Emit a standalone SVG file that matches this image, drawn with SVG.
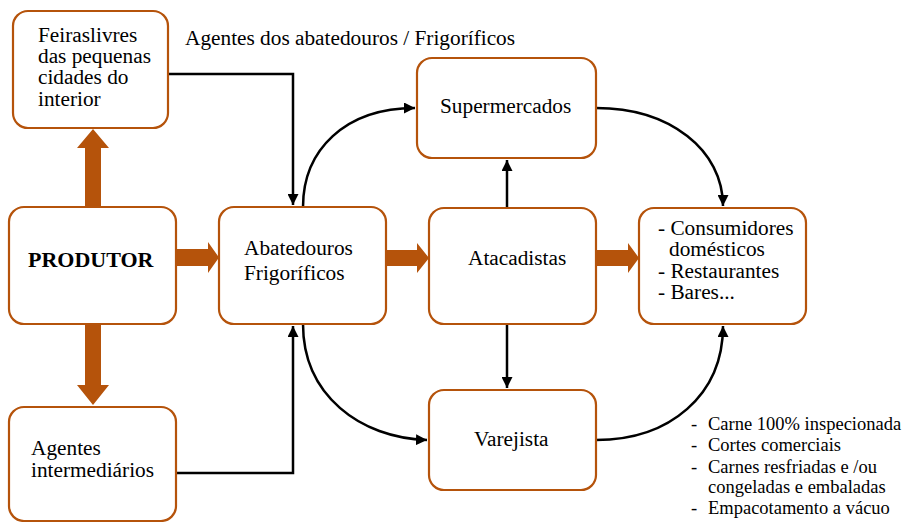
<svg xmlns="http://www.w3.org/2000/svg" width="905" height="522" viewBox="0 0 905 522" font-family="'Liberation Serif', serif">
<defs>
<style>
.box{fill:#fff;stroke:#b5530b;stroke-width:2.2}
.big{fill:#b5530b}
text{font-family:'Liberation Serif',serif;font-size:21.3px;fill:#000}
.b{font-weight:bold;font-size:22px}
.sm{font-size:18.5px}
.c{fill:none;stroke:#000;stroke-width:2.5}
</style>
<marker id="ah" viewBox="0 0 10 10" refX="10" refY="5" markerWidth="11" markerHeight="11" markerUnits="userSpaceOnUse" orient="auto">
<path d="M0,0 L10,5 L0,10 z" fill="#000"/>
</marker>
</defs>
<rect width="905" height="522" fill="#fff"/>
<g id="thick-arrows">
<polygon class="big" points="85,207 85,148 77,148 93,129 109,148 101,148 101,207"/>
<polygon class="big" points="85,324 85,385 77,385 93,405 109,385 101,385 101,324"/>
<polygon class="big" points="176,249 208,249 208,242 219,257.5 208,273 208,266 176,266"/>
<polygon class="big" points="386,250 417,250 417,243 429,258 417,273 417,266 386,266"/>
<polygon class="big" points="596,250 628,250 628,243 639,258 628,273 628,266 596,266"/>
</g>
<g id="connectors">
<path class="c" d="M168,74 H293 V205" marker-end="url(#ah)"/>
<path class="c" d="M176,473 H293 V326" marker-end="url(#ah)"/>
<path class="c" d="M303,207 C303,150 345,108 415,108" marker-end="url(#ah)"/>
<path class="c" d="M303,324 C303,395 360,438 427,440" marker-end="url(#ah)"/>
<path class="c" d="M507,208 V160" marker-end="url(#ah)"/>
<path class="c" d="M507,324 V388" marker-end="url(#ah)"/>
<path class="c" d="M596,108 C670,108 723,150 723,206" marker-end="url(#ah)"/>
<path class="c" d="M596,440 C670,440 723,395 723,326" marker-end="url(#ah)"/>
</g>
<g id="feiras">
<rect class="box" x="13" y="11" width="155" height="117" rx="15"/>
<text x="38" y="42">Feiraslivres</text>
<text x="38" y="63">das pequenas</text>
<text x="38" y="84">cidades do</text>
<text x="38" y="106">interior</text>
</g>
<g id="label-agentes-abatedouros">
<text x="185" y="45">Agentes dos abatedouros / Frigoríficos</text>
</g>
<g id="produtor">
<rect class="box" x="9" y="207" width="167" height="117" rx="15"/>
<text class="b" x="28" y="267">PRODUTOR</text>
</g>
<g id="abatedouros">
<rect class="box" x="219" y="207" width="167" height="117" rx="15"/>
<text x="244" y="255">Abatedouros</text>
<text x="244" y="280">Frigoríficos</text>
</g>
<g id="supermercados">
<rect class="box" x="417" y="58" width="179" height="100" rx="15"/>
<text x="440" y="113">Supermercados</text>
</g>
<g id="atacadistas">
<rect class="box" x="429" y="208" width="167" height="116" rx="15"/>
<text x="468" y="265">Atacadistas</text>
</g>
<g id="consumidores">
<rect class="box" x="639" y="208" width="167" height="116" rx="15"/>
<text x="658" y="235">- Consumidores</text>
<text x="669" y="256">domésticos</text>
<text x="658" y="278">- Restaurantes</text>
<text x="658" y="299">- Bares...</text>
</g>
<g id="agentes-intermediarios">
<rect class="box" x="9" y="407" width="167" height="114" rx="15"/>
<text x="31" y="455">Agentes</text>
<text x="31" y="477">intermediários</text>
</g>
<g id="varejista">
<rect class="box" x="429" y="390" width="167" height="100" rx="15"/>
<text x="474" y="446">Varejista</text>
</g>
<g id="notes">
<text class="sm" x="691" y="430">-</text>
<text class="sm" x="708" y="430">Carne 100% inspecionada</text>
<text class="sm" x="691" y="451">-</text>
<text class="sm" x="708" y="451">Cortes comerciais</text>
<text class="sm" x="691" y="473">-</text>
<text class="sm" x="708" y="473">Carnes resfriadas e /ou</text>
<text class="sm" x="708" y="493">congeladas e embaladas</text>
<text class="sm" x="691" y="514">-</text>
<text class="sm" x="708" y="514">Empacotamento a vácuo</text>
</g>
</svg>
